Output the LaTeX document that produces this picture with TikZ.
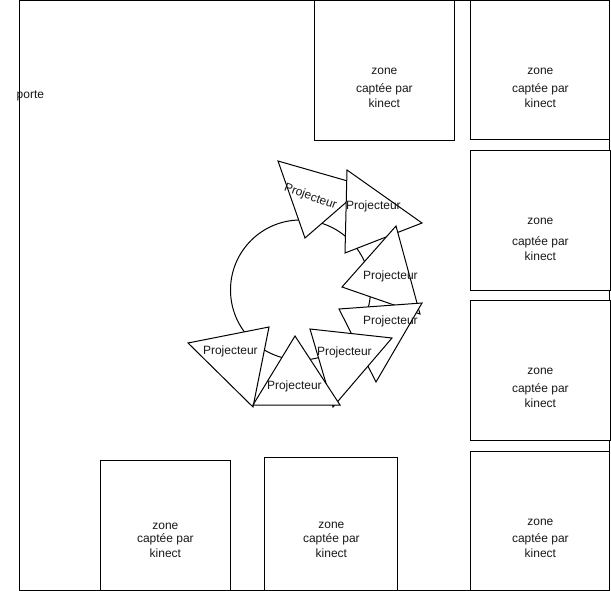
\documentclass[tikz,border=0pt]{standalone}
\usepackage{fontspec}
\setmainfont{Liberation Sans}
\tikzset{
  shapeline/.style={draw=black,line width=1pt,fill=white},
  lbl/.style={font=\fontsize{12}{14}\selectfont,inner sep=0pt,text=black!90,anchor=center,yshift=-1pt,xshift=0.4pt},
}
\newcommand{\zonebox}[8]{% name, x1,y1,x2,y2, cx, y zone, y capt
  \draw[shapeline] (#2,#3) rectangle (#4,#5);
  \node[lbl] (#1z) at (#6,#7) {zone};
  \node[lbl] (#1c) at (#6,#8) {captée par};
  \node[lbl] (#1k) at (#6,#8+14) {kinect};
}
\newcommand{\tri}[8]{% name, 3 vertices, label pos
  \draw[shapeline] (#2) -- (#3) -- (#4) -- cycle;
  \node[lbl,rotate=#7] (#1) at (#5,#6) {#8};
}
\begin{document}
\begin{tikzpicture}[x=1pt,y=-1pt]
\useasboundingbox (0,0) rectangle (611,591);
\draw[shapeline] (19.5,0.5) rectangle (609.5,590);
\zonebox{za}{314.5}{0.5}{454.5}{140.5}{384}{70}{88}
\zonebox{zb}{470.5}{0.5}{609.5}{139.5}{540}{70}{88}
\zonebox{zc}{470.5}{150.5}{610.5}{290.5}{540}{220}{241}
\zonebox{zd}{470.5}{300.5}{610.5}{440.5}{540}{370}{388}
\zonebox{ze}{470.5}{451.5}{609.5}{590}{540}{521}{538}
\zonebox{zf}{100.5}{460.5}{230.5}{590}{165}{525}{538}
\zonebox{zg}{264.5}{457.5}{397.5}{590}{331}{524}{538}
\node[lbl] (porte) at (30,95) {porte};
\draw[line width=1pt,fill=white] (300.5,290) circle (70);
\tri{pa}{278,161}{305,238}{365,186}{310}{196}{-20}{Projecteur}
\tri{pb}{347,170}{345,253}{422,223}{373}{205.5}{0}{Projecteur}
\tri{pc}{396,226}{342,287}{420,314}{390}{275}{0}{Projecteur}
\tri{pd}{422,303}{339,309}{376,382}{390}{320.5}{0}{Projecteur}
\tri{pe}{310,329}{392,338}{333,407}{344}{351}{0}{Projecteur}
\tri{pf}{269,327}{188,343}{253,407}{230}{350.5}{0}{Projecteur}
\tri{pg}{295,336}{253,405}{340,405}{294}{385.5}{0}{Projecteur}
\end{tikzpicture}
\end{document}
